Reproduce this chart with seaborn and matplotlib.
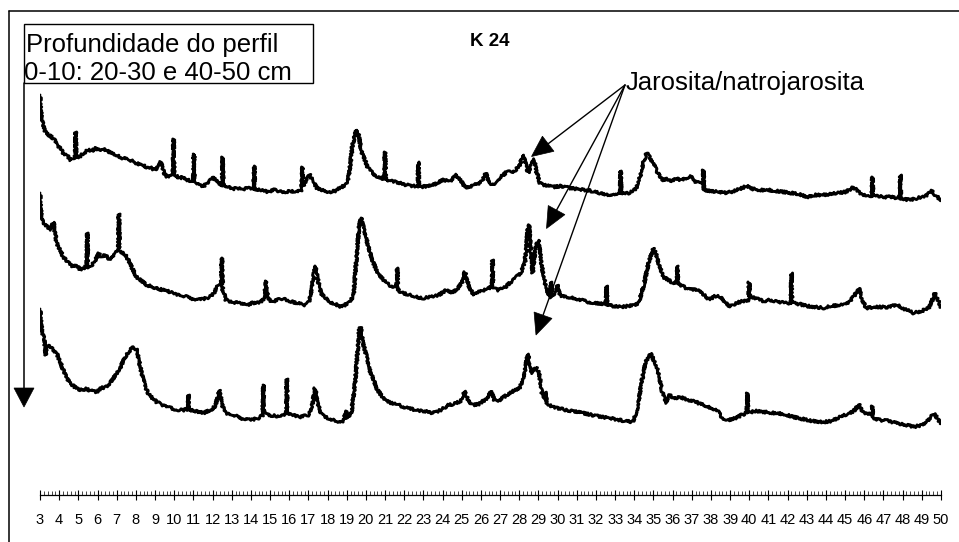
import numpy as np
import pandas as pd
import matplotlib
matplotlib.use("Agg")
import matplotlib.pyplot as plt
from matplotlib.lines import Line2D
from matplotlib.patches import Polygon, Rectangle
from matplotlib.ticker import MultipleLocator
import seaborn as sns

# ---------------- data (2theta, relative intensity) ----------------
perfil_0_10 = [
    (3.0, 105), (3.05, 90), (3.1, 80), (3.2, 72), (3.3, 67), (3.45, 65), (3.6, 63), (3.75, 60),
    (3.9, 55), (4.05, 52), (4.2, 47), (4.4, 45), (4.6, 40), (4.75, 42), (4.83, 42), (4.86, 68),
    (4.89, 42), (4.95, 42), (5.1, 44), (5.3, 47), (5.5, 50), (5.7, 49), (5.9, 52), (6.1, 50),
    (6.3, 51), (6.5, 49), (6.74, 47), (7.0, 45), (7.3, 42), (7.5, 41), (7.7, 40), (8.0, 37),
    (8.3, 35), (8.57, 33), (8.8, 32), (9.0, 30), (9.2, 34), (9.3, 38), (9.45, 28), (9.6, 23),
    (9.8, 25), (9.94, 25), (9.97, 61), (10.0, 24), (10.1, 24), (10.3, 22), (10.5, 23), (10.7, 20),
    (10.9, 19), (11.0, 19), (11.03, 46), (11.06, 18), (11.15, 17), (11.3, 15), (11.5, 13),
    (11.7, 17), (11.9, 20), (12.05, 23), (12.2, 19), (12.35, 16), (12.5, 15), (12.53, 43),
    (12.56, 14), (12.65, 14), (12.8, 13), (13.0, 11), (13.3, 12), (13.6, 11), (13.9, 12),
    (14.15, 11), (14.18, 34), (14.21, 10), (14.3, 10), (14.6, 10), (14.9, 8), (15.2, 10),
    (15.5, 9), (15.8, 8), (16.1, 9), (16.4, 8), (16.65, 10), (16.68, 33), (16.71, 14), (16.8, 15),
    (17.05, 26), (17.25, 18), (17.45, 12), (17.7, 10), (18.1, 8), (18.4, 9), (18.65, 12),
    (18.9, 15), (19.07, 20), (19.17, 33), (19.3, 55), (19.48, 70), (19.6, 67), (19.78, 48),
    (19.95, 40), (20.1, 32), (20.3, 28), (20.56, 23), (20.8, 22), (20.97, 21), (21.0, 48),
    (21.03, 20), (21.2, 20), (21.6, 18), (21.9, 16), (22.13, 15), (22.5, 14), (22.71, 14),
    (22.74, 38), (22.77, 13), (22.9, 13), (23.2, 14), (23.5, 15), (23.8, 18), (24.04, 20),
    (24.4, 19), (24.73, 25), (24.9, 21), (25.1, 15), (25.34, 12), (25.6, 15), (25.9, 16),
    (26.1, 20), (26.25, 27), (26.4, 19), (26.6, 15), (26.9, 20), (27.1, 24), (27.34, 28),
    (27.6, 28), (27.8, 30), (28.0, 34), (28.21, 45), (28.35, 35), (28.47, 27), (28.6, 34),
    (28.77, 41), (28.9, 28), (29.08, 17), (29.3, 15), (29.78, 13), (30.2, 14), (30.6, 12),
    (31.0, 11), (31.4, 10), (31.8, 9), (32.2, 7), (32.56, 5), (32.9, 6), (33.26, 7), (33.29, 29),
    (33.32, 7), (33.7, 7), (34.0, 10), (34.13, 13), (34.3, 23), (34.5, 40), (34.65, 47),
    (34.8, 43), (35.0, 36), (35.2, 28), (35.43, 20), (35.7, 21), (35.95, 19), (36.2, 21),
    (36.5, 20), (37.0, 24), (37.2, 18), (37.57, 16), (37.6, 30), (37.63, 10), (38.0, 9),
    (38.4, 8), (38.82, 7), (39.2, 9), (39.5, 11), (39.86, 14), (40.2, 11), (40.6, 10),
    (41.0, 10), (41.4, 9), (41.8, 8), (42.2, 7), (42.6, 6), (43.0, 3), (43.4, 5), (43.8, 5),
    (44.2, 6), (44.6, 7), (45.0, 8), (45.2, 10), (45.43, 13), (45.6, 10), (45.9, 5), (46.2, 4),
    (46.39, 4), (46.42, 23), (46.45, 4), (46.6, 4), (47.0, 3), (47.4, 3), (47.7, 2), (47.85, 2),
    (47.88, 25), (47.91, 1), (48.0, 1), (48.4, 0), (48.8, 2), (49.2, 4), (49.52, 9), (49.75, 4),
    (50.0, 0),
]

perfil_20_30 = [
    (3.0, 120), (3.05, 103), (3.1, 93), (3.25, 88), (3.4, 86), (3.55, 83), (3.7, 91), (3.8, 78),
    (3.87, 70), (4.0, 65), (4.22, 56), (4.45, 51), (4.74, 46), (4.9, 48), (5.1, 43), (5.3, 45),
    (5.44, 48), (5.47, 80), (5.5, 45), (5.65, 47), (5.85, 51), (6.04, 60), (6.2, 56), (6.4, 58),
    (6.65, 53), (6.85, 57), (7.0, 61), (7.09, 63), (7.12, 99), (7.15, 63), (7.3, 60), (7.45, 58),
    (7.61, 53), (7.8, 45), (8.04, 36), (8.3, 32), (8.57, 28), (8.9, 26), (9.2, 24), (9.43, 23),
    (9.8, 21), (10.1, 19), (10.3, 18), (10.7, 16), (11.0, 14), (11.17, 13), (11.5, 14),
    (11.86, 16), (12.1, 21), (12.3, 28), (12.45, 30), (12.49, 55), (12.53, 23), (12.7, 13),
    (13.0, 11), (13.4, 10), (13.78, 8), (14.1, 10), (14.5, 11), (14.7, 15), (14.79, 32),
    (14.88, 15), (15.1, 11), (15.4, 13), (15.69, 15), (16.0, 12), (16.4, 10), (16.8, 8),
    (17.05, 11), (17.2, 28), (17.35, 47), (17.5, 33), (17.65, 20), (17.9, 15), (18.13, 11),
    (18.4, 9), (18.65, 6), (18.9, 8), (19.1, 11), (19.35, 16), (19.5, 53), (19.65, 88),
    (19.75, 95), (19.9, 83), (20.04, 73), (20.2, 61), (20.39, 50), (20.6, 41), (20.91, 33),
    (21.2, 28), (21.5, 26), (21.61, 26), (21.64, 45), (21.67, 23), (21.9, 20), (22.3, 18),
    (22.6, 16), (23.0, 15), (23.4, 16), (23.8, 18), (24.21, 23), (24.5, 20), (24.8, 25),
    (25.0, 30), (25.17, 41), (25.35, 28), (25.6, 18), (25.9, 21), (26.2, 23), (26.45, 25),
    (26.57, 27), (26.6, 53), (26.63, 25), (26.9, 23), (27.2, 25), (27.45, 29), (27.68, 33),
    (27.9, 37), (28.1, 41), (28.3, 51), (28.45, 85), (28.51, 88), (28.6, 63), (28.7, 40),
    (28.85, 65), (28.99, 73), (29.1, 58), (29.25, 38), (29.4, 26), (29.5, 20), (29.6, 15),
    (29.65, 31), (29.72, 17), (29.9, 20), (30.0, 28), (30.1, 18), (30.4, 16), (30.82, 15),
    (31.2, 13), (31.6, 11), (32.0, 10), (32.4, 9), (32.53, 9), (32.56, 27), (32.59, 8),
    (32.9, 7), (33.3, 6), (33.7, 7), (34.0, 8), (34.22, 10), (34.5, 28), (34.75, 51), (35.0, 65),
    (35.15, 58), (35.3, 48), (35.51, 36), (35.8, 33), (36.0, 30), (36.22, 30), (36.25, 47),
    (36.28, 30), (36.5, 27), (36.9, 23), (37.2, 24), (37.5, 20), (37.94, 13), (38.2, 17),
    (38.5, 16), (38.98, 6), (39.3, 10), (39.7, 12), (39.96, 13), (39.99, 31), (40.02, 16),
    (40.3, 15), (40.7, 12), (41.1, 13), (41.5, 11), (41.9, 10), (42.17, 10), (42.2, 40),
    (42.23, 10), (42.6, 9), (43.0, 7), (43.5, 6), (43.86, 5), (44.3, 7), (44.8, 8), (45.2, 11),
    (45.5, 18), (45.72, 25), (45.9, 13), (46.1, 5), (46.6, 6), (47.2, 6), (47.7, 8), (48.1, 4),
    (48.56, 0), (49.0, 2), (49.4, 6), (49.69, 20), (49.85, 13), (50.0, 6),
]

perfil_40_50 = [
    (3.0, 118), (3.1, 97), (3.22, 87), (3.3, 72), (3.4, 82), (3.52, 80), (3.7, 77), (3.87, 74),
    (4.05, 65), (4.22, 57), (4.4, 49), (4.56, 44), (4.8, 40), (5.1, 37), (5.4, 38), (5.7, 36),
    (5.96, 35), (6.2, 39), (6.45, 40), (6.7, 45), (7.0, 54), (7.2, 59), (7.35, 67), (7.6, 75),
    (7.87, 80), (8.05, 77), (8.3, 54), (8.5, 39), (8.7, 32), (9.08, 25), (9.4, 22), (9.8, 19),
    (10.2, 17), (10.5, 17), (10.72, 18), (10.75, 32), (10.78, 17), (11.1, 16), (11.52, 14),
    (11.9, 17), (12.15, 21), (12.36, 37), (12.5, 22), (12.7, 14), (13.1, 12), (13.6, 8),
    (14.0, 7), (14.4, 9), (14.62, 12), (14.65, 42), (14.68, 14), (14.9, 12), (15.3, 11),
    (15.7, 11), (15.85, 14), (15.88, 48), (15.91, 14), (16.2, 12), (16.6, 10), (17.0, 12),
    (17.2, 22), (17.35, 39), (17.5, 22), (17.7, 12), (18.0, 9), (18.4, 6), (18.65, 4), (18.85, 7),
    (18.95, 16), (19.05, 9), (19.25, 15), (19.45, 47), (19.65, 97), (19.73, 100), (19.85, 84),
    (20.04, 70), (20.2, 57), (20.4, 47), (20.6, 37), (20.91, 29), (21.3, 24), (21.7, 22),
    (22.13, 19), (22.6, 17), (23.0, 16), (23.5, 14), (23.9, 17), (24.3, 22), (24.6, 23),
    (24.95, 26), (25.17, 36), (25.35, 25), (25.6, 22), (25.9, 23), (26.2, 27), (26.35, 29),
    (26.53, 36), (26.7, 27), (26.9, 26), (27.2, 30), (27.5, 34), (27.8, 37), (28.04, 40),
    (28.25, 49), (28.4, 69), (28.47, 73), (28.6, 57), (28.7, 54), (28.9, 60), (29.05, 52),
    (29.2, 32), (29.3, 27), (29.36, 35), (29.45, 24), (29.7, 20), (30.0, 19), (30.4, 17),
    (30.8, 16), (31.3, 14), (31.8, 12), (32.3, 10), (32.7, 9), (33.2, 7), (33.6, 6), (33.95, 5),
    (34.2, 22), (34.4, 47), (34.6, 65), (34.86, 74), (35.05, 65), (35.25, 55), (35.5, 32),
    (35.69, 24), (35.85, 32), (36.1, 28), (36.4, 30), (36.8, 27), (37.2, 25), (37.6, 22),
    (38.0, 19), (38.3, 17), (38.6, 9), (38.9, 7), (39.3, 9), (39.6, 12), (39.87, 14), (39.9, 34),
    (39.93, 14), (40.3, 16), (40.8, 15), (41.3, 14), (41.8, 13), (42.3, 10), (42.8, 8), (43.3, 6),
    (43.86, 5), (44.3, 6), (44.8, 11), (45.2, 13), (45.5, 17), (45.72, 23), (45.9, 15), (46.2, 13),
    (46.39, 13), (46.42, 21), (46.45, 9), (46.8, 7), (47.3, 6), (47.8, 3), (48.2, 2), (48.56, 0),
    (49.0, 2), (49.35, 7), (49.65, 14), (49.85, 7), (50.0, 4),
]

sample_names = ["0-10 cm", "20-30 cm", "40-50 cm"]
tick_values = list(range(3, 51))
title_text = "K 24"
box_lines = ["Profundidade do perfil", "0-10: 20-30 e 40-50 cm"]
phase_label = "Jarosita/natrojarosita"

# ---------------- layout / style ----------------
W, H = 959, 542
offsets = [295, 182, 68]          # vertical stacking of the patterns

frames = []
for name, series, off in zip(sample_names, [perfil_0_10, perfil_20_30, perfil_40_50], offsets):
    d = pd.DataFrame(series, columns=["2theta", "intensity"])
    d["y"] = d["intensity"] + off
    d["perfil"] = name
    frames.append(d)
df = pd.concat(frames, ignore_index=True)

sns.set_style("white")
plt.rcParams["font.family"] = ["Liberation Sans", "DejaVu Sans"]

fig = plt.figure(figsize=(W / 100, H / 100), dpi=100)
fig.patch.set_facecolor("white")


def fx(x):
    return x / W


def fy(y):
    return 1 - y / H


ax_left, ax_right, ax_bottom, ax_top = 40, 941, 495, 60
ax = fig.add_axes([fx(ax_left), fy(ax_bottom), (ax_right - ax_left) / W, (ax_bottom - ax_top) / H])
ax.set_facecolor("none")

sns.lineplot(data=df, x="2theta", y="y", hue="perfil", units="perfil", estimator=None,
             palette=["black"] * 3, legend=False, linewidth=2.1, sort=False, ax=ax)
# ragged rendering style imitating the counting noise of the diffractograms
for ln in ax.get_lines():
    ln.set_sketch_params(scale=1.2, length=1.6, randomness=3.0)

ax.set_xlim(3, 50)
ax.set_ylim(0, ax_bottom - ax_top)
ax.set_xlabel("")
ax.set_ylabel("")
ax.set_yticks([])
for s in ["top", "left", "right"]:
    ax.spines[s].set_visible(False)
ax.spines["bottom"].set_color("black")
ax.spines["bottom"].set_linewidth(0.9)
ax.xaxis.set_major_locator(MultipleLocator(1))
ax.xaxis.set_minor_locator(MultipleLocator(0.2))
ax.set_xticks(tick_values)
ax.set_xticklabels([str(v) for v in tick_values])
ax.tick_params(axis="x", which="major", direction="inout", length=7, width=0.8,
               labelsize=10.5, pad=9.5, colors="black", bottom=True)
ax.tick_params(axis="x", which="minor", direction="in", length=3, width=0.6, bottom=True)

# ---------------- outer frame (left & top visible) ----------------
fig.add_artist(Line2D([fx(9), fx(959)], [fy(11), fy(11)], color="black", lw=1.1,
                      transform=fig.transFigure))
fig.add_artist(Line2D([fx(9), fx(9)], [fy(11), fy(542)], color="black", lw=1.1,
                      transform=fig.transFigure))

# ---------------- depth box ----------------
fig.add_artist(Rectangle((fx(24), fy(83)), (313 - 24) / W, (83 - 24) / H, fill=False,
                         edgecolor="black", lw=1.0, transform=fig.transFigure))
fig.text(fx(26), fy(52), box_lines[0], fontsize=18.5, ha="left", va="baseline", color="black")
fig.text(fx(24), fy(80), box_lines[1], fontsize=18.5, ha="left", va="baseline", color="black")

# title
fig.text(fx(470), fy(46.5), title_text, fontsize=13.5, fontweight="bold", ha="left",
         va="baseline", color="black")


def arrow(x0, y0, x1, y1, head_len, half_w, lw=1.0):
    d = np.array([x1 - x0, y1 - y0], dtype=float)
    d /= np.hypot(*d)
    n = np.array([-d[1], d[0]])
    tip = np.array([x1, y1], dtype=float)
    base = tip - d * head_len
    fig.add_artist(Line2D([fx(x0), fx(base[0])], [fy(y0), fy(base[1])], color="black", lw=lw,
                          transform=fig.transFigure))
    pts = [tip, base + n * half_w, base - n * half_w]
    fig.add_artist(Polygon([(fx(p[0]), fy(p[1])) for p in pts], closed=True, facecolor="black",
                           edgecolor="black", lw=0.5, transform=fig.transFigure))


# depth arrow (continues the box's left edge)
arrow(24, 83, 24, 407, 19, 10, lw=1.1)

# phase label and arrows
fig.text(fx(626), fy(90), phase_label, fontsize=18.5, ha="left", va="baseline", color="black")
origin = (625, 85)
for tip in [(531.5, 156.5), (546.5, 228.5), (536, 335)]:
    arrow(origin[0], origin[1], tip[0], tip[1], 21, 9.5, lw=1.0)

fig.savefig("out.png", dpi=100, facecolor="white")
